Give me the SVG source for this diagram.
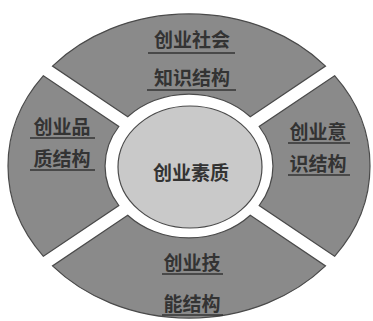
<svg xmlns="http://www.w3.org/2000/svg" width="373" height="321" viewBox="0 0 373 321">
<style>
.sector{fill:#8a8a8a;stroke:#4a4a4a;stroke-width:1.2}
.core{fill:#c9c9c9;stroke:#4a4a4a;stroke-width:1.2}
.lbl{font-family:"Noto Sans CJK SC","Noto Sans CJK JP",sans-serif;font-size:19px;fill:#333;text-anchor:middle;font-weight:bold}
.ul{stroke:#333;stroke-width:1.5}
</style>
<rect width="373" height="321" fill="#ffffff"/>
<g id="top">
<path class="sector" d="M52.5,66.1 A181,152 0 0 1 325.5,66.1 L250.3,116.8 A84,72 0 0 0 127.7,116.8 Z"/>
<text class="lbl" x="192" y="47">创业社会</text>
<line class="ul" x1="148" y1="53" x2="235" y2="53"/>
<text class="lbl" x="192" y="85">知识结构</text>
<line class="ul" x1="147" y1="90" x2="236" y2="90"/>
</g>
<g id="right">
<path class="sector" d="M334.6,75.7 A181,152 0 0 1 334.6,256.3 L259.2,205.5 A84,72 0 0 0 259.2,126.5 Z"/>
<text class="lbl" x="318" y="139">创业意</text>
<line class="ul" x1="288" y1="143" x2="350" y2="143"/>
<text class="lbl" x="318" y="171">识结构</text>
<line class="ul" x1="288" y1="175" x2="350" y2="175"/>
</g>
<g id="bottom">
<path class="sector" d="M325.5,265.9 A181,152 0 0 1 52.5,265.9 L127.7,215.2 A84,72 0 0 0 250.3,215.2 Z"/>
<text class="lbl" x="192" y="270">创业技</text>
<line class="ul" x1="162" y1="274" x2="223" y2="274"/>
<text class="lbl" x="192" y="311">能结构</text>
<line class="ul" x1="162" y1="315" x2="223" y2="315"/>
</g>
<g id="left">
<path class="sector" d="M43.4,256.3 A181,152 0 0 1 43.4,75.7 L118.8,126.5 A84,72 0 0 0 118.8,205.5 Z"/>
<text class="lbl" x="62" y="134">创业品</text>
<line class="ul" x1="30" y1="138" x2="95" y2="138"/>
<text class="lbl" x="62" y="166">质结构</text>
<line class="ul" x1="30" y1="170" x2="95" y2="170"/>
</g>
<g id="center">
<ellipse class="core" cx="190" cy="167" rx="72" ry="61"/>
<text class="lbl" x="191" y="180">创业素质</text>
</g>
<g id="connectors"></g>
</svg>
